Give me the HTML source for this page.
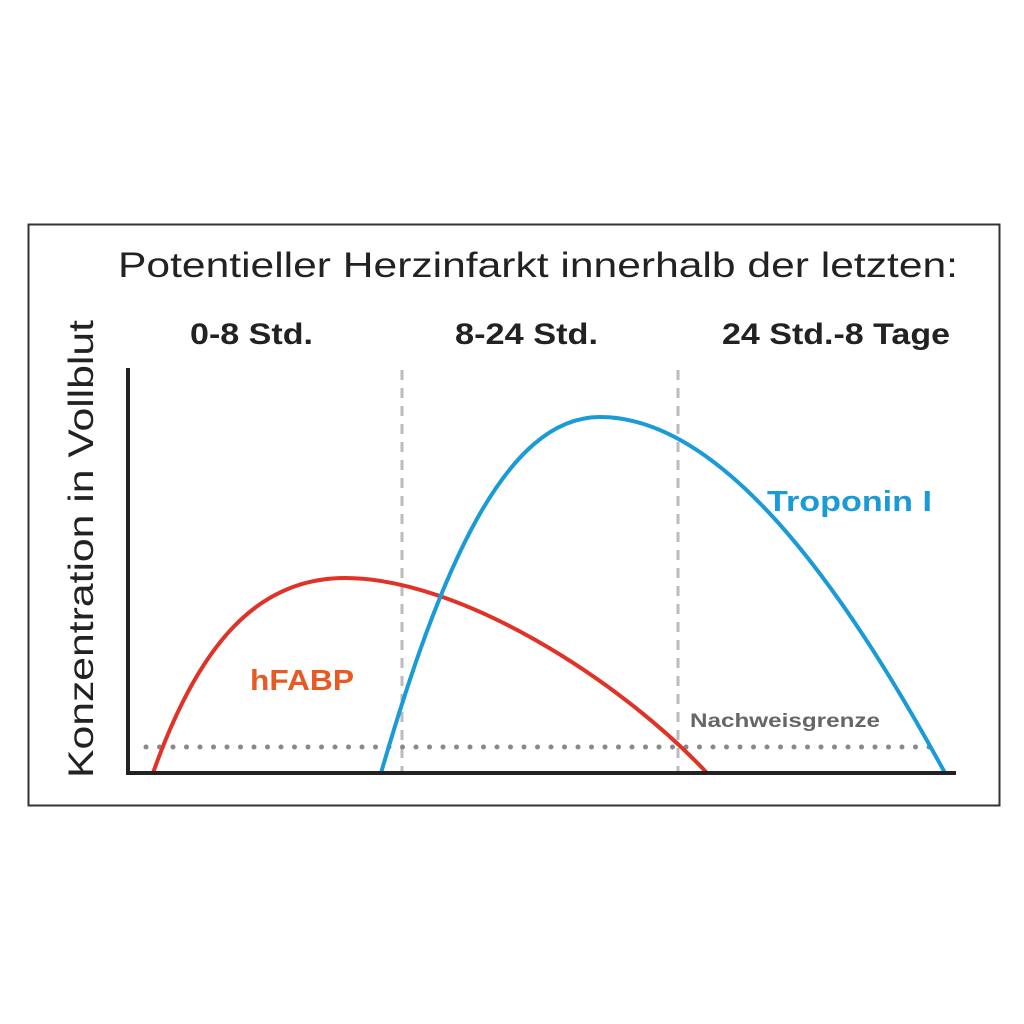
<!DOCTYPE html>
<html><head><meta charset="utf-8"><style>
html,body{margin:0;padding:0;background:#fff;}
svg{display:block;}
text{font-family:"Liberation Sans",sans-serif;}
</style></head><body>
<svg width="1024" height="1024" viewBox="0 0 1024 1024">
<rect x="0" y="0" width="1024" height="1024" fill="#fff"/>
<rect x="28.5" y="224.5" width="971" height="581" fill="#fff" stroke="#333" stroke-width="2"/>
<text x="118" y="277" font-size="35" fill="#222" textLength="840" lengthAdjust="spacingAndGlyphs">Potentieller Herzinfarkt innerhalb der letzten:</text>
<text x="190" y="344" font-size="30" font-weight="bold" fill="#222" textLength="123" lengthAdjust="spacingAndGlyphs">0-8 Std.</text>
<text x="455" y="344" font-size="30" font-weight="bold" fill="#222" textLength="143" lengthAdjust="spacingAndGlyphs">8-24 Std.</text>
<text x="722" y="344" font-size="30" font-weight="bold" fill="#222" textLength="228" lengthAdjust="spacingAndGlyphs">24 Std.-8 Tage</text>
<text transform="translate(93,778) rotate(-90)" font-size="35" fill="#222" textLength="458" lengthAdjust="spacingAndGlyphs">Konzentration in Vollblut</text>
<line x1="402" y1="370" x2="402" y2="773" stroke="#bbb" stroke-width="3" stroke-dasharray="10,8"/>
<line x1="678" y1="370" x2="678" y2="773" stroke="#bbb" stroke-width="3" stroke-dasharray="10,8"/>
<line x1="146" y1="747" x2="936" y2="747" stroke="#888" stroke-width="5" stroke-dasharray="0,13.5" stroke-linecap="round"/>
<path d="M153,773 C200,640 260,578 345,578 C460,578 620,680 707,773" fill="none" stroke="#e03226" stroke-width="4"/>
<path d="M381,773 C440,570 505,417 600,417 C720,417 840,580 945,773" fill="none" stroke="#1a9ad6" stroke-width="4"/>
<line x1="128" y1="368" x2="128" y2="775" stroke="#222" stroke-width="4"/>
<line x1="126" y1="773" x2="956" y2="773" stroke="#222" stroke-width="4"/>
<text x="250" y="690" font-size="29" font-weight="bold" fill="#e85a23" textLength="104" lengthAdjust="spacingAndGlyphs">hFABP</text>
<text x="767" y="511" font-size="29" font-weight="bold" fill="#1a9ad6" textLength="165" lengthAdjust="spacingAndGlyphs">Troponin I</text>
<text x="690" y="727" font-size="19" font-weight="bold" fill="#666" textLength="190" lengthAdjust="spacingAndGlyphs">Nachweisgrenze</text>
</svg>
</body></html>
